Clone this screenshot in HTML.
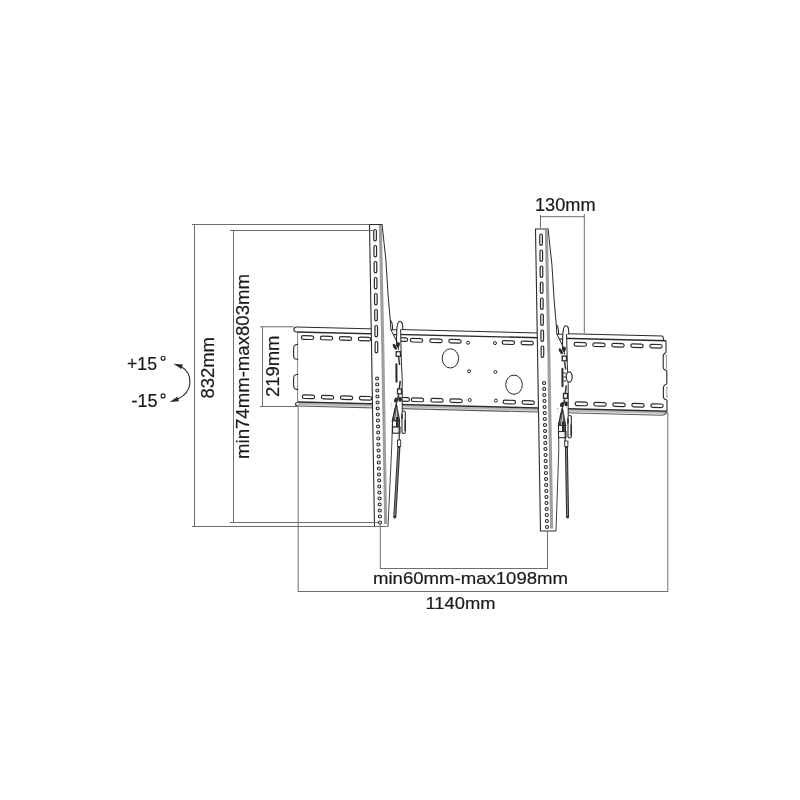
<!DOCTYPE html>
<html><head><meta charset="utf-8"><style>
html,body{margin:0;padding:0;background:#fff;}
svg{display:block;will-change:transform;}
text{font-family:"Liberation Sans",sans-serif;}
</style></head><body>
<svg width="800" height="800" viewBox="0 0 800 800">
<rect width="800" height="800" fill="#fff"/>
<text x="535" y="210.8" font-size="18" fill="#1a1a1a" stroke="#1a1a1a" stroke-width="0.2" textLength="60.5" lengthAdjust="spacingAndGlyphs">130mm</text>
<text x="373" y="583.8" font-size="17.2" fill="#1a1a1a" stroke="#1a1a1a" stroke-width="0.2" textLength="195" lengthAdjust="spacingAndGlyphs">min60mm-max1098mm</text>
<text x="425.5" y="608.5" font-size="17" fill="#1a1a1a" stroke="#1a1a1a" stroke-width="0.2" textLength="70" lengthAdjust="spacingAndGlyphs">1140mm</text>
<text x="0" y="0" transform="translate(214.4,398.5) rotate(-90)" font-size="18.5" fill="#1a1a1a" stroke="#1a1a1a" stroke-width="0.2" textLength="61.5" lengthAdjust="spacingAndGlyphs">832mm</text>
<text x="0" y="0" transform="translate(249.3,459) rotate(-90)" font-size="18.5" fill="#1a1a1a" stroke="#1a1a1a" stroke-width="0.2" textLength="185" lengthAdjust="spacingAndGlyphs">min74mm-max803mm</text>
<text x="0" y="0" transform="translate(279.4,397) rotate(-90)" font-size="18.5" fill="#1a1a1a" stroke="#1a1a1a" stroke-width="0.2" textLength="61.5" lengthAdjust="spacingAndGlyphs">219mm</text>
<text x="127" y="369.5" font-size="18" fill="#1a1a1a" stroke="#1a1a1a" stroke-width="0.2" textLength="30" lengthAdjust="spacingAndGlyphs">+15</text>
<text x="131.5" y="406.7" font-size="18" fill="#1a1a1a" stroke="#1a1a1a" stroke-width="0.2" textLength="26" lengthAdjust="spacingAndGlyphs">-15</text>
<circle cx="163.1" cy="358.2" r="2.0" fill="none" stroke="#1a1a1a" stroke-width="1.1"/>
<circle cx="163.1" cy="395.9" r="2.0" fill="none" stroke="#1a1a1a" stroke-width="1.1"/>
<path d="M181,366.4 C187.5,370 190.3,376.5 189.9,383.2 C189.5,390 185,395.5 177.5,399.3" fill="none" stroke="#2a2a2a" stroke-width="1.1"/>
<path d="M173.4,363.7 L182.9,364.5 L181.3,368.9 Z" fill="#2a2a2a"/>
<path d="M169.6,401.9 L177.4,396.8 L179.0,401.2 Z" fill="#2a2a2a"/>
<path d="M296.5,327 L662,336 Q663.5,336.5 663.5,340.5" fill="none" stroke="#2a2a2a" stroke-width="1.1"/>
<path d="M296.5,332 L666,340.8" fill="none" stroke="#2a2a2a" stroke-width="1.4"/>
<path d="M296.5,327 Q293.8,327.5 293.8,329.5 Q293.8,332 296.5,332" fill="none" stroke="#2a2a2a" stroke-width="1.1"/>
<path d="M298,403.8 L667,413" fill="none" stroke="#b8b8b8" stroke-width="2.2"/>
<path d="M298,402 L667,411.2" fill="none" stroke="#2a2a2a" stroke-width="1.4"/>
<path d="M298,406 L662,415.2 Q666,415 667,411.2" fill="none" stroke="#555" stroke-width="1.1"/>
<path d="M298,402 Q295.5,402.5 295.5,404 Q295.5,406 298,406" fill="none" stroke="#2a2a2a" stroke-width="1.1"/>
<path d="M297.6,332 L297.6,402" fill="none" stroke="#777" stroke-width="0.9"/>
<path d="M298.2,344.3 Q296.5,344.3 295.5,344.8 Q293.6,345.5 293.6,348.5 L293.6,355.5 Q293.6,358.5 295.5,359 Q296.5,359.3 298.2,359.3" fill="none" stroke="#2a2a2a" stroke-width="1.1"/>
<path d="M298.2,374.3 Q296.5,374.3 295.5,374.8 Q293.6,375.5 293.6,378.5 L293.6,385.5 Q293.6,388.5 295.5,389 Q296.5,389.5 298.2,389.5" fill="none" stroke="#2a2a2a" stroke-width="1.1"/>
<path d="M666,340.8 L666,352.5 M666.8,370.5 L666.8,384 M667,400 L667,411.2" fill="none" stroke="#2a2a2a" stroke-width="1.1"/>
<path d="M666,352.5 Q663.2,353.5 663.2,356.5 L663.2,367 Q663.2,370 666.8,370.5" fill="none" stroke="#2a2a2a" stroke-width="1.1"/>
<path d="M666.2,354 L666.6,369" fill="none" stroke="#888" stroke-width="0.9"/>
<path d="M666.8,384 Q663.4,385 663.4,388 L663.4,396.5 Q663.4,399.5 667,400" fill="none" stroke="#2a2a2a" stroke-width="1.1"/>
<path d="M666.8,386 L667,398" fill="none" stroke="#888" stroke-width="0.9"/>
<rect x="301.35" y="335.80" width="12.3" height="3.6" rx="1.8" fill="none" stroke="#2a2a2a" stroke-width="1.2" transform="rotate(1.4 307.50 337.60)"/>
<rect x="302.35" y="395.00" width="12.3" height="3.6" rx="1.8" fill="none" stroke="#2a2a2a" stroke-width="1.2" transform="rotate(1.4 308.50 396.80)"/>
<rect x="320.35" y="336.27" width="12.3" height="3.6" rx="1.8" fill="none" stroke="#2a2a2a" stroke-width="1.2" transform="rotate(1.4 326.50 338.07)"/>
<rect x="321.35" y="395.47" width="12.3" height="3.6" rx="1.8" fill="none" stroke="#2a2a2a" stroke-width="1.2" transform="rotate(1.4 327.50 397.27)"/>
<rect x="339.35" y="336.73" width="12.3" height="3.6" rx="1.8" fill="none" stroke="#2a2a2a" stroke-width="1.2" transform="rotate(1.4 345.50 338.53)"/>
<rect x="340.35" y="395.93" width="12.3" height="3.6" rx="1.8" fill="none" stroke="#2a2a2a" stroke-width="1.2" transform="rotate(1.4 346.50 397.73)"/>
<rect x="358.35" y="337.20" width="12.3" height="3.6" rx="1.8" fill="none" stroke="#2a2a2a" stroke-width="1.2" transform="rotate(1.4 364.50 339.00)"/>
<rect x="359.35" y="396.40" width="12.3" height="3.6" rx="1.8" fill="none" stroke="#2a2a2a" stroke-width="1.2" transform="rotate(1.4 365.50 398.20)"/>
<rect x="410.35" y="338.52" width="12.3" height="3.6" rx="1.8" fill="none" stroke="#2a2a2a" stroke-width="1.2" transform="rotate(1.4 416.50 340.32)"/>
<rect x="411.35" y="398.02" width="12.3" height="3.6" rx="1.8" fill="none" stroke="#2a2a2a" stroke-width="1.2" transform="rotate(1.4 417.50 399.82)"/>
<rect x="429.85" y="339.00" width="12.3" height="3.6" rx="1.8" fill="none" stroke="#2a2a2a" stroke-width="1.2" transform="rotate(1.4 436.00 340.80)"/>
<rect x="430.85" y="398.50" width="12.3" height="3.6" rx="1.8" fill="none" stroke="#2a2a2a" stroke-width="1.2" transform="rotate(1.4 437.00 400.30)"/>
<rect x="448.85" y="339.47" width="12.3" height="3.6" rx="1.8" fill="none" stroke="#2a2a2a" stroke-width="1.2" transform="rotate(1.4 455.00 341.27)"/>
<rect x="449.85" y="398.97" width="12.3" height="3.6" rx="1.8" fill="none" stroke="#2a2a2a" stroke-width="1.2" transform="rotate(1.4 456.00 400.77)"/>
<rect x="502.15" y="340.77" width="12.3" height="3.6" rx="1.8" fill="none" stroke="#2a2a2a" stroke-width="1.2" transform="rotate(1.4 508.30 342.57)"/>
<rect x="503.15" y="400.27" width="12.3" height="3.6" rx="1.8" fill="none" stroke="#2a2a2a" stroke-width="1.2" transform="rotate(1.4 509.30 402.07)"/>
<rect x="521.05" y="341.23" width="12.3" height="3.6" rx="1.8" fill="none" stroke="#2a2a2a" stroke-width="1.2" transform="rotate(1.4 527.20 343.03)"/>
<rect x="522.05" y="400.73" width="12.3" height="3.6" rx="1.8" fill="none" stroke="#2a2a2a" stroke-width="1.2" transform="rotate(1.4 528.20 402.53)"/>
<rect x="574.15" y="342.54" width="12.3" height="3.6" rx="1.8" fill="none" stroke="#2a2a2a" stroke-width="1.2" transform="rotate(1.4 580.30 344.34)"/>
<rect x="575.15" y="402.04" width="12.3" height="3.6" rx="1.8" fill="none" stroke="#2a2a2a" stroke-width="1.2" transform="rotate(1.4 581.30 403.84)"/>
<rect x="592.85" y="342.99" width="12.3" height="3.6" rx="1.8" fill="none" stroke="#2a2a2a" stroke-width="1.2" transform="rotate(1.4 599.00 344.79)"/>
<rect x="593.85" y="402.49" width="12.3" height="3.6" rx="1.8" fill="none" stroke="#2a2a2a" stroke-width="1.2" transform="rotate(1.4 600.00 404.29)"/>
<rect x="611.85" y="343.46" width="12.3" height="3.6" rx="1.8" fill="none" stroke="#2a2a2a" stroke-width="1.2" transform="rotate(1.4 618.00 345.26)"/>
<rect x="612.85" y="402.96" width="12.3" height="3.6" rx="1.8" fill="none" stroke="#2a2a2a" stroke-width="1.2" transform="rotate(1.4 619.00 404.76)"/>
<rect x="630.85" y="343.92" width="12.3" height="3.6" rx="1.8" fill="none" stroke="#2a2a2a" stroke-width="1.2" transform="rotate(1.4 637.00 345.72)"/>
<rect x="631.85" y="403.42" width="12.3" height="3.6" rx="1.8" fill="none" stroke="#2a2a2a" stroke-width="1.2" transform="rotate(1.4 638.00 405.22)"/>
<rect x="649.85" y="344.39" width="12.3" height="3.6" rx="1.8" fill="none" stroke="#2a2a2a" stroke-width="1.2" transform="rotate(1.4 656.00 346.19)"/>
<rect x="650.85" y="403.89" width="12.3" height="3.6" rx="1.8" fill="none" stroke="#2a2a2a" stroke-width="1.2" transform="rotate(1.4 657.00 405.69)"/>
<rect x="395.35" y="337.70" width="12.3" height="3.6" rx="1.8" fill="none" stroke="#2a2a2a" stroke-width="1.2" transform="rotate(1.4 401.50 339.50)"/>
<rect x="397.15" y="397.60" width="12.3" height="3.6" rx="1.8" fill="none" stroke="#2a2a2a" stroke-width="1.2" transform="rotate(1.4 403.30 399.40)"/>
<circle cx="468.1" cy="342.75" r="1.5" fill="none" stroke="#2a2a2a" stroke-width="1"/>
<circle cx="469" cy="371.25" r="1.5" fill="none" stroke="#2a2a2a" stroke-width="1"/>
<circle cx="469.75" cy="400" r="1.5" fill="none" stroke="#2a2a2a" stroke-width="1"/>
<circle cx="495" cy="343.1" r="1.5" fill="none" stroke="#2a2a2a" stroke-width="1"/>
<circle cx="495.4" cy="371.9" r="1.5" fill="none" stroke="#2a2a2a" stroke-width="1"/>
<circle cx="495.9" cy="400.6" r="1.5" fill="none" stroke="#2a2a2a" stroke-width="1"/>
<ellipse cx="450.4" cy="358.4" rx="8.2" ry="9.6" fill="none" stroke="#2a2a2a" stroke-width="1"/>
<ellipse cx="514" cy="384.7" rx="8.3" ry="9.6" fill="none" stroke="#2a2a2a" stroke-width="1"/>
<path d="M369.00,224.00 L382.00,224.00 L388.50,305.00 L390.00,321.00 L392.00,420.00 L391.80,445.00 L388.00,526.50 L374.50,526.50 Z" fill="#fff" stroke="none"/>
<path d="M390.00,321.00 L402.80,321.00 L402.80,329.20 L400.60,329.20 L401.30,360.00 L402.00,396.00 L402.20,412.00 L392.50,412.00 L392.50,420.00 Z" fill="#fff" stroke="none"/>
<path d="M382.00,224.50 L369.50,224.50 L374.50,526.50 L388.00,526.50" fill="none" stroke="#2a2a2a" stroke-width="1.1"/>
<path d="M382.00,224.00 L385.90,260.00 L388.10,295.00 L390.30,321.00 L390.90,329.70 L397.50,343.00 L398.50,350.00" fill="none" stroke="#2a2a2a" stroke-width="1"/>
<path d="M400.60,329.50 L401.30,360.00 Q402.60,380.00 402.20,396.00 L402.20,411.00" fill="none" stroke="#2a2a2a" stroke-width="1"/>
<path d="M398.50,394.00 L392.50,420.00 L391.80,445.00 L388.00,526.50" fill="none" stroke="#2a2a2a" stroke-width="0.9"/>
<path d="M380.70,225.00 L383.20,350.00 L386.00,524.00" fill="none" stroke="#a0a0a0" stroke-width="2.4"/>
<path d="M379.30,225.00 L381.80,350.00 L384.60,524.00" fill="none" stroke="#666" stroke-width="0.6"/>
<rect x="373.77" y="229.50" width="2.6" height="11.4" rx="1.3" fill="none" stroke="#2a2a2a" stroke-width="1.2"/>
<rect x="373.97" y="245.50" width="2.6" height="11.4" rx="1.3" fill="none" stroke="#2a2a2a" stroke-width="1.2"/>
<rect x="374.16" y="261.50" width="2.6" height="11.4" rx="1.3" fill="none" stroke="#2a2a2a" stroke-width="1.2"/>
<rect x="374.35" y="277.50" width="2.6" height="11.4" rx="1.3" fill="none" stroke="#2a2a2a" stroke-width="1.2"/>
<rect x="374.54" y="293.50" width="2.6" height="11.4" rx="1.3" fill="none" stroke="#2a2a2a" stroke-width="1.2"/>
<rect x="374.73" y="309.50" width="2.6" height="11.4" rx="1.3" fill="none" stroke="#2a2a2a" stroke-width="1.2"/>
<rect x="374.93" y="325.50" width="2.6" height="11.4" rx="1.3" fill="none" stroke="#2a2a2a" stroke-width="1.2"/>
<rect x="375.12" y="341.50" width="2.6" height="11.4" rx="1.3" fill="none" stroke="#2a2a2a" stroke-width="1.2"/>
<circle cx="377.10" cy="378.50" r="1.5" fill="none" stroke="#2a2a2a" stroke-width="1.15"/>
<circle cx="377.22" cy="384.50" r="1.5" fill="none" stroke="#2a2a2a" stroke-width="1.15"/>
<circle cx="377.34" cy="390.50" r="1.5" fill="none" stroke="#2a2a2a" stroke-width="1.15"/>
<circle cx="377.46" cy="396.50" r="1.5" fill="none" stroke="#2a2a2a" stroke-width="1.15"/>
<circle cx="377.58" cy="402.50" r="1.5" fill="none" stroke="#2a2a2a" stroke-width="1.15"/>
<circle cx="377.70" cy="408.50" r="1.5" fill="none" stroke="#2a2a2a" stroke-width="1.15"/>
<circle cx="377.83" cy="414.50" r="1.5" fill="none" stroke="#2a2a2a" stroke-width="1.15"/>
<circle cx="377.95" cy="420.50" r="1.5" fill="none" stroke="#2a2a2a" stroke-width="1.15"/>
<circle cx="378.07" cy="426.50" r="1.5" fill="none" stroke="#2a2a2a" stroke-width="1.15"/>
<circle cx="378.19" cy="432.50" r="1.5" fill="none" stroke="#2a2a2a" stroke-width="1.15"/>
<circle cx="378.31" cy="438.50" r="1.5" fill="none" stroke="#2a2a2a" stroke-width="1.15"/>
<circle cx="378.43" cy="444.50" r="1.5" fill="none" stroke="#2a2a2a" stroke-width="1.15"/>
<circle cx="378.55" cy="450.50" r="1.5" fill="none" stroke="#2a2a2a" stroke-width="1.15"/>
<circle cx="378.67" cy="456.50" r="1.5" fill="none" stroke="#2a2a2a" stroke-width="1.15"/>
<circle cx="378.79" cy="462.50" r="1.5" fill="none" stroke="#2a2a2a" stroke-width="1.15"/>
<circle cx="378.91" cy="468.50" r="1.5" fill="none" stroke="#2a2a2a" stroke-width="1.15"/>
<circle cx="379.03" cy="474.50" r="1.5" fill="none" stroke="#2a2a2a" stroke-width="1.15"/>
<circle cx="379.15" cy="480.50" r="1.5" fill="none" stroke="#2a2a2a" stroke-width="1.15"/>
<circle cx="379.28" cy="486.50" r="1.5" fill="none" stroke="#2a2a2a" stroke-width="1.15"/>
<circle cx="379.40" cy="492.50" r="1.5" fill="none" stroke="#2a2a2a" stroke-width="1.15"/>
<circle cx="379.52" cy="498.50" r="1.5" fill="none" stroke="#2a2a2a" stroke-width="1.15"/>
<circle cx="379.64" cy="504.50" r="1.5" fill="none" stroke="#2a2a2a" stroke-width="1.15"/>
<circle cx="379.76" cy="510.50" r="1.5" fill="none" stroke="#2a2a2a" stroke-width="1.15"/>
<circle cx="379.88" cy="516.50" r="1.5" fill="none" stroke="#2a2a2a" stroke-width="1.15"/>
<circle cx="380.00" cy="522.50" r="1.5" fill="none" stroke="#2a2a2a" stroke-width="1.15"/>
<path d="M396.50,346.00 C396.50,336.00 396.30,321.30 399.60,321.30 C402.80,321.30 402.80,325.00 402.80,330.00" fill="none" stroke="#2a2a2a" stroke-width="1.1"/>
<path d="M390.00,320.60 C391.50,320.60 392.60,322.50 392.60,329.70 M390.90,329.70 L396.70,329.70 M393.00,334.60 L396.50,334.60" fill="none" stroke="#2a2a2a" stroke-width="1.1"/>
<ellipse cx="398.3" cy="344.9" rx="1.5" ry="2.8" fill="#2a2a2a" transform="rotate(15 398.3 344.9)"/>
<ellipse cx="394.8" cy="346.8" rx="1.4" ry="3.3" fill="#2a2a2a" transform="rotate(-30 394.8 346.8)"/>
<rect x="396.2" y="351.7" width="4.3" height="4.6" fill="#fff" stroke="#2a2a2a" stroke-width="1.3"/>
<path d="M398.60,357.00 L399.60,365.00" stroke="#2a2a2a" stroke-width="1.4"/>
<path d="M396.40,364.30 L396.50,381.80" stroke="#2a2a2a" stroke-width="2" stroke-linecap="round"/>
<path d="M400.20,381.00 L399.30,389.00" stroke="#2a2a2a" stroke-width="1.5"/>
<rect x="397.5" y="389" width="4" height="4.8" fill="#fff" stroke="#2a2a2a" stroke-width="1.3"/>
<ellipse cx="395.7" cy="400" rx="1.5" ry="2.6" fill="#2a2a2a" transform="rotate(25 395.7 400)"/>
<ellipse cx="400.1" cy="399.3" rx="1.8" ry="2.6" fill="#2a2a2a"/>
<path d="M399.00,395.00 L394.00,412.00" stroke="#2a2a2a" stroke-width="1"/>
<path d="M396.50,404.50 L392.30,421.00 L399.60,421.00 Z" fill="#c8c8c8" stroke="#2a2a2a" stroke-width="1.2"/>
<path d="M396.30,407.00 L394.50,420.00 M397.00,407.00 L398.00,420.00" stroke="#555" stroke-width="1"/>
<path d="M392.50,421.00 L399.50,421.00 L399.50,427.00 L392.50,427.00 Z" fill="#fff" stroke="#2a2a2a" stroke-width="1"/>
<rect x="396" y="417" width="2.6" height="10" fill="#2a2a2a"/>
<rect x="393" y="418" width="2" height="2.5" fill="#444"/>
<rect x="392.5" y="427" width="7.5" height="6.2" fill="#f2f2f2" stroke="#2a2a2a" stroke-width="1.1"/>
<rect x="402" y="411" width="3.3" height="22.5" rx="1.6" fill="#fff" stroke="#2a2a2a" stroke-width="1.1"/>
<path d="M405.20,420.00 L405.20,431.00" stroke="#2a2a2a" stroke-width="1.5"/>
<path d="M402.00,414.00 L402.00,419.00" stroke="#2a2a2a" stroke-width="1.4"/>
<path d="M399.20,420.00 L399.20,440.00" stroke="#2a2a2a" stroke-width="1.2"/>
<path d="M535.00,228.50 L548.00,228.50 L554.50,309.50 L556.00,325.50 L558.00,424.50 L558.80,449.50 L556.00,531.00 L540.50,531.00 Z" fill="#fff" stroke="none"/>
<path d="M556.00,325.50 L568.80,325.50 L568.80,333.70 L566.60,333.70 L567.30,364.50 L568.00,400.50 L568.20,416.50 L558.50,416.50 L558.50,424.50 Z" fill="#fff" stroke="none"/>
<path d="M548.00,229.00 L535.50,229.00 L540.50,531.00 L556.00,531.00" fill="none" stroke="#2a2a2a" stroke-width="1.1"/>
<path d="M548.00,228.50 L551.90,264.50 L554.10,299.50 L556.30,325.50 L556.90,334.20 L563.50,347.50 L564.50,354.50" fill="none" stroke="#2a2a2a" stroke-width="1"/>
<path d="M566.60,334.00 L567.30,364.50 Q568.60,384.50 568.20,400.50 L568.20,415.50" fill="none" stroke="#2a2a2a" stroke-width="1"/>
<path d="M564.50,398.50 L558.50,424.50 L558.80,449.50 L556.00,531.00" fill="none" stroke="#2a2a2a" stroke-width="0.9"/>
<path d="M546.70,229.50 L549.20,354.50 L552.00,528.50" fill="none" stroke="#a0a0a0" stroke-width="2.4"/>
<path d="M545.30,229.50 L547.80,354.50 L550.60,528.50" fill="none" stroke="#666" stroke-width="0.6"/>
<rect x="539.77" y="234.00" width="2.6" height="11.4" rx="1.3" fill="none" stroke="#2a2a2a" stroke-width="1.2"/>
<rect x="539.97" y="250.00" width="2.6" height="11.4" rx="1.3" fill="none" stroke="#2a2a2a" stroke-width="1.2"/>
<rect x="540.16" y="266.00" width="2.6" height="11.4" rx="1.3" fill="none" stroke="#2a2a2a" stroke-width="1.2"/>
<rect x="540.35" y="282.00" width="2.6" height="11.4" rx="1.3" fill="none" stroke="#2a2a2a" stroke-width="1.2"/>
<rect x="540.54" y="298.00" width="2.6" height="11.4" rx="1.3" fill="none" stroke="#2a2a2a" stroke-width="1.2"/>
<rect x="540.73" y="314.00" width="2.6" height="11.4" rx="1.3" fill="none" stroke="#2a2a2a" stroke-width="1.2"/>
<rect x="540.93" y="330.00" width="2.6" height="11.4" rx="1.3" fill="none" stroke="#2a2a2a" stroke-width="1.2"/>
<rect x="541.12" y="346.00" width="2.6" height="11.4" rx="1.3" fill="none" stroke="#2a2a2a" stroke-width="1.2"/>
<circle cx="544.10" cy="383.00" r="1.5" fill="none" stroke="#2a2a2a" stroke-width="1.15"/>
<circle cx="544.22" cy="389.00" r="1.5" fill="none" stroke="#2a2a2a" stroke-width="1.15"/>
<circle cx="544.34" cy="395.00" r="1.5" fill="none" stroke="#2a2a2a" stroke-width="1.15"/>
<circle cx="544.46" cy="401.00" r="1.5" fill="none" stroke="#2a2a2a" stroke-width="1.15"/>
<circle cx="544.58" cy="407.00" r="1.5" fill="none" stroke="#2a2a2a" stroke-width="1.15"/>
<circle cx="544.70" cy="413.00" r="1.5" fill="none" stroke="#2a2a2a" stroke-width="1.15"/>
<circle cx="544.83" cy="419.00" r="1.5" fill="none" stroke="#2a2a2a" stroke-width="1.15"/>
<circle cx="544.95" cy="425.00" r="1.5" fill="none" stroke="#2a2a2a" stroke-width="1.15"/>
<circle cx="545.07" cy="431.00" r="1.5" fill="none" stroke="#2a2a2a" stroke-width="1.15"/>
<circle cx="545.19" cy="437.00" r="1.5" fill="none" stroke="#2a2a2a" stroke-width="1.15"/>
<circle cx="545.31" cy="443.00" r="1.5" fill="none" stroke="#2a2a2a" stroke-width="1.15"/>
<circle cx="545.43" cy="449.00" r="1.5" fill="none" stroke="#2a2a2a" stroke-width="1.15"/>
<circle cx="545.55" cy="455.00" r="1.5" fill="none" stroke="#2a2a2a" stroke-width="1.15"/>
<circle cx="545.67" cy="461.00" r="1.5" fill="none" stroke="#2a2a2a" stroke-width="1.15"/>
<circle cx="545.79" cy="467.00" r="1.5" fill="none" stroke="#2a2a2a" stroke-width="1.15"/>
<circle cx="545.91" cy="473.00" r="1.5" fill="none" stroke="#2a2a2a" stroke-width="1.15"/>
<circle cx="546.03" cy="479.00" r="1.5" fill="none" stroke="#2a2a2a" stroke-width="1.15"/>
<circle cx="546.15" cy="485.00" r="1.5" fill="none" stroke="#2a2a2a" stroke-width="1.15"/>
<circle cx="546.28" cy="491.00" r="1.5" fill="none" stroke="#2a2a2a" stroke-width="1.15"/>
<circle cx="546.40" cy="497.00" r="1.5" fill="none" stroke="#2a2a2a" stroke-width="1.15"/>
<circle cx="546.52" cy="503.00" r="1.5" fill="none" stroke="#2a2a2a" stroke-width="1.15"/>
<circle cx="546.64" cy="509.00" r="1.5" fill="none" stroke="#2a2a2a" stroke-width="1.15"/>
<circle cx="546.76" cy="515.00" r="1.5" fill="none" stroke="#2a2a2a" stroke-width="1.15"/>
<circle cx="546.88" cy="521.00" r="1.5" fill="none" stroke="#2a2a2a" stroke-width="1.15"/>
<circle cx="547.00" cy="527.00" r="1.5" fill="none" stroke="#2a2a2a" stroke-width="1.15"/>
<path d="M562.50,350.50 C562.50,340.50 562.30,325.80 565.60,325.80 C568.80,325.80 568.80,329.50 568.80,334.50" fill="none" stroke="#2a2a2a" stroke-width="1.1"/>
<path d="M556.00,325.10 C557.50,325.10 558.60,327.00 558.60,334.20 M556.90,334.20 L562.70,334.20 M559.00,339.10 L562.50,339.10" fill="none" stroke="#2a2a2a" stroke-width="1.1"/>
<ellipse cx="564.3" cy="349.4" rx="1.5" ry="2.8" fill="#2a2a2a" transform="rotate(15 564.3 349.4)"/>
<ellipse cx="560.8" cy="351.3" rx="1.4" ry="3.3" fill="#2a2a2a" transform="rotate(-30 560.8 351.3)"/>
<rect x="562.2" y="356.2" width="4.3" height="4.6" fill="#fff" stroke="#2a2a2a" stroke-width="1.3"/>
<path d="M564.60,361.50 L565.60,369.50" stroke="#2a2a2a" stroke-width="1.4"/>
<path d="M562.40,368.80 L562.50,386.30" stroke="#2a2a2a" stroke-width="2" stroke-linecap="round"/>
<path d="M566.20,385.50 L565.30,393.50" stroke="#2a2a2a" stroke-width="1.5"/>
<rect x="563.5" y="393.5" width="4" height="4.8" fill="#fff" stroke="#2a2a2a" stroke-width="1.3"/>
<ellipse cx="561.7" cy="404.5" rx="1.5" ry="2.6" fill="#2a2a2a" transform="rotate(25 561.7 404.5)"/>
<ellipse cx="566.1" cy="403.8" rx="1.8" ry="2.6" fill="#2a2a2a"/>
<path d="M565.00,399.50 L560.00,416.50" stroke="#2a2a2a" stroke-width="1"/>
<path d="M562.50,409.00 L558.30,425.50 L565.60,425.50 Z" fill="#c8c8c8" stroke="#2a2a2a" stroke-width="1.2"/>
<path d="M562.30,411.50 L560.50,424.50 M563.00,411.50 L564.00,424.50" stroke="#555" stroke-width="1"/>
<path d="M558.50,425.50 L565.50,425.50 L565.50,431.50 L558.50,431.50 Z" fill="#fff" stroke="#2a2a2a" stroke-width="1"/>
<rect x="562" y="421.5" width="2.6" height="10" fill="#2a2a2a"/>
<rect x="559" y="422.5" width="2" height="2.5" fill="#444"/>
<rect x="558.5" y="431.5" width="7.5" height="6.2" fill="#f2f2f2" stroke="#2a2a2a" stroke-width="1.1"/>
<rect x="568" y="415.5" width="3.3" height="22.5" rx="1.6" fill="#fff" stroke="#2a2a2a" stroke-width="1.1"/>
<path d="M571.20,424.50 L571.20,435.50" stroke="#2a2a2a" stroke-width="1.5"/>
<path d="M568.00,418.50 L568.00,423.50" stroke="#2a2a2a" stroke-width="1.4"/>
<path d="M565.20,424.50 L565.20,444.50" stroke="#2a2a2a" stroke-width="1.2"/>
<ellipse cx="569.2" cy="377" rx="3" ry="5.2" fill="#fff" stroke="#2a2a2a" stroke-width="1.2"/>
<path d="M563.5,373 L566,373 M563.5,377 L566,377 M563.5,381 L566,381" stroke="#2a2a2a" stroke-width="1"/>
<path d="M398.9,447 L394.8,517" stroke="#2a2a2a" stroke-width="3" stroke-linecap="round"/>
<path d="M398.8,448 L394.8,516" stroke="#888" stroke-width="1"/>
<path d="M566.4,447 L567.6,517" stroke="#2a2a2a" stroke-width="3" stroke-linecap="round"/>
<path d="M566.4,448 L567.6,516" stroke="#888" stroke-width="1"/>
<rect x="397.5" y="440" width="3.2" height="6.5" fill="#fff" stroke="#2a2a2a" stroke-width="0.9"/>
<rect x="564.7" y="441" width="3.2" height="5.5" fill="#fff" stroke="#2a2a2a" stroke-width="0.9"/>
<line x1="192" y1="224.5" x2="369.5" y2="224.5" stroke="#6e6e6e" stroke-width="1.0"/>
<line x1="194.5" y1="224" x2="194.5" y2="527" stroke="#6e6e6e" stroke-width="1.0"/>
<line x1="192" y1="526.5" x2="388" y2="526.5" stroke="#6e6e6e" stroke-width="1.0"/>
<line x1="230" y1="230.5" x2="373" y2="230.5" stroke="#6e6e6e" stroke-width="1.0"/>
<line x1="233.5" y1="230" x2="233.5" y2="523" stroke="#6e6e6e" stroke-width="1.0"/>
<line x1="230" y1="522.5" x2="378.7" y2="522.5" stroke="#6e6e6e" stroke-width="1.0"/>
<line x1="260" y1="326.8" x2="294" y2="326.8" stroke="#6e6e6e" stroke-width="1.0"/>
<line x1="262.5" y1="326.8" x2="262.5" y2="406.5" stroke="#6e6e6e" stroke-width="1.0"/>
<line x1="260" y1="406.5" x2="297" y2="406.5" stroke="#6e6e6e" stroke-width="1.0"/>
<line x1="298.2" y1="406" x2="298.2" y2="592" stroke="#6e6e6e" stroke-width="1.0"/>
<line x1="667.8" y1="412" x2="667.8" y2="592" stroke="#6e6e6e" stroke-width="1.0"/>
<line x1="298" y1="591.5" x2="668" y2="591.5" stroke="#6e6e6e" stroke-width="1.0"/>
<line x1="380.3" y1="524" x2="380.3" y2="569" stroke="#6e6e6e" stroke-width="1.0"/>
<line x1="547.5" y1="531" x2="547.5" y2="569" stroke="#6e6e6e" stroke-width="1.0"/>
<line x1="380" y1="568.5" x2="547.5" y2="568.5" stroke="#6e6e6e" stroke-width="1.0"/>
<line x1="540.5" y1="215" x2="540.5" y2="228" stroke="#6e6e6e" stroke-width="1.0"/>
<line x1="584.3" y1="214" x2="584.3" y2="333" stroke="#6e6e6e" stroke-width="1.0"/>
<line x1="540" y1="216.7" x2="584.5" y2="216.7" stroke="#6e6e6e" stroke-width="1.0"/>
</svg>
</body></html>
